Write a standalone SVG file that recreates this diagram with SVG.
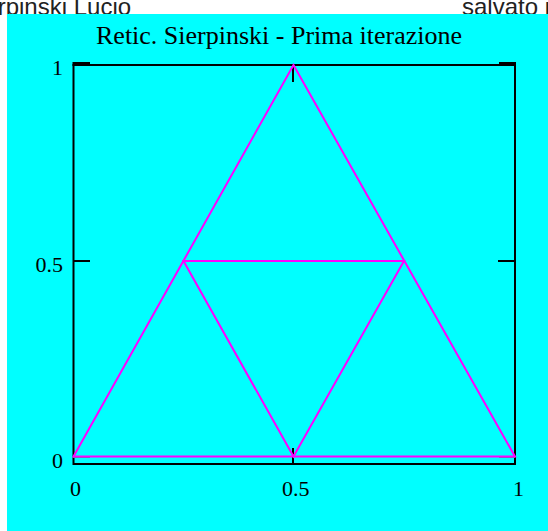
<svg xmlns="http://www.w3.org/2000/svg" width="548" height="531" viewBox="0 0 548 531">
<style>
.hdr{font-family:"Liberation Sans",Arial,sans-serif;font-size:24px;fill:#222}
.lbl{font-family:"Liberation Serif","Times New Roman",serif;font-size:22px;fill:#000}
.ttl{font-family:"Liberation Serif","Times New Roman",serif;font-size:26px;fill:#000}
.ax{stroke:#000;stroke-width:2;fill:none}
.tri{stroke:#FF00FF;stroke-width:2;fill:none;stroke-linejoin:miter}
</style>
<rect x="0" y="0" width="548" height="531" fill="#fff"/>
<g id="header">
<text class="hdr" x="-37" y="14.5">Sierpinski Lucio</text>
<text class="hdr" x="462" y="14.5">salvato il</text>
</g>
<rect id="background" x="7" y="14" width="541" height="517" fill="#00FFFF"/>
<text id="title" class="ttl" x="96" y="44">Retic. Sierpinski - Prima iterazione</text>
<g id="axes">
<rect class="ax" x="73.5" y="65" width="441.5" height="399"/>
<line class="ax" x1="73.5" y1="62" x2="73.5" y2="66"/>
<line class="ax" x1="515" y1="62" x2="515" y2="66"/>
<line class="ax" x1="73" y1="63" x2="90" y2="63"/>
<line class="ax" x1="499" y1="63" x2="515" y2="63"/>
<line class="ax" x1="73" y1="261" x2="90" y2="261"/>
<line class="ax" x1="498" y1="261" x2="515" y2="261"/>
<line class="ax" x1="293" y1="65" x2="293" y2="82"/>
<line class="ax" x1="293" y1="448" x2="293" y2="464"/>
<line x1="73" y1="457.5" x2="90" y2="457.5" stroke="#339999" stroke-width="1"/>
<line x1="499" y1="457.5" x2="515" y2="457.5" stroke="#339999" stroke-width="1"/>
</g>
<g id="labels">
<text class="lbl" x="63" y="74.5" text-anchor="end">1</text>
<text class="lbl" x="63" y="271.5" text-anchor="end">0.5</text>
<text class="lbl" x="63" y="468" text-anchor="end">0</text>
<text class="lbl" x="70" y="496">0</text>
<text class="lbl" x="282" y="496">0.5</text>
<text class="lbl" x="513" y="496">1</text>
</g>
<g id="sierpinski">
<polygon class="tri" points="73.5,456.5 515,456.5 293.5,65"/>
<polygon class="tri" points="183.5,261 404,261 293.5,456.5"/>
</g>
</svg>
